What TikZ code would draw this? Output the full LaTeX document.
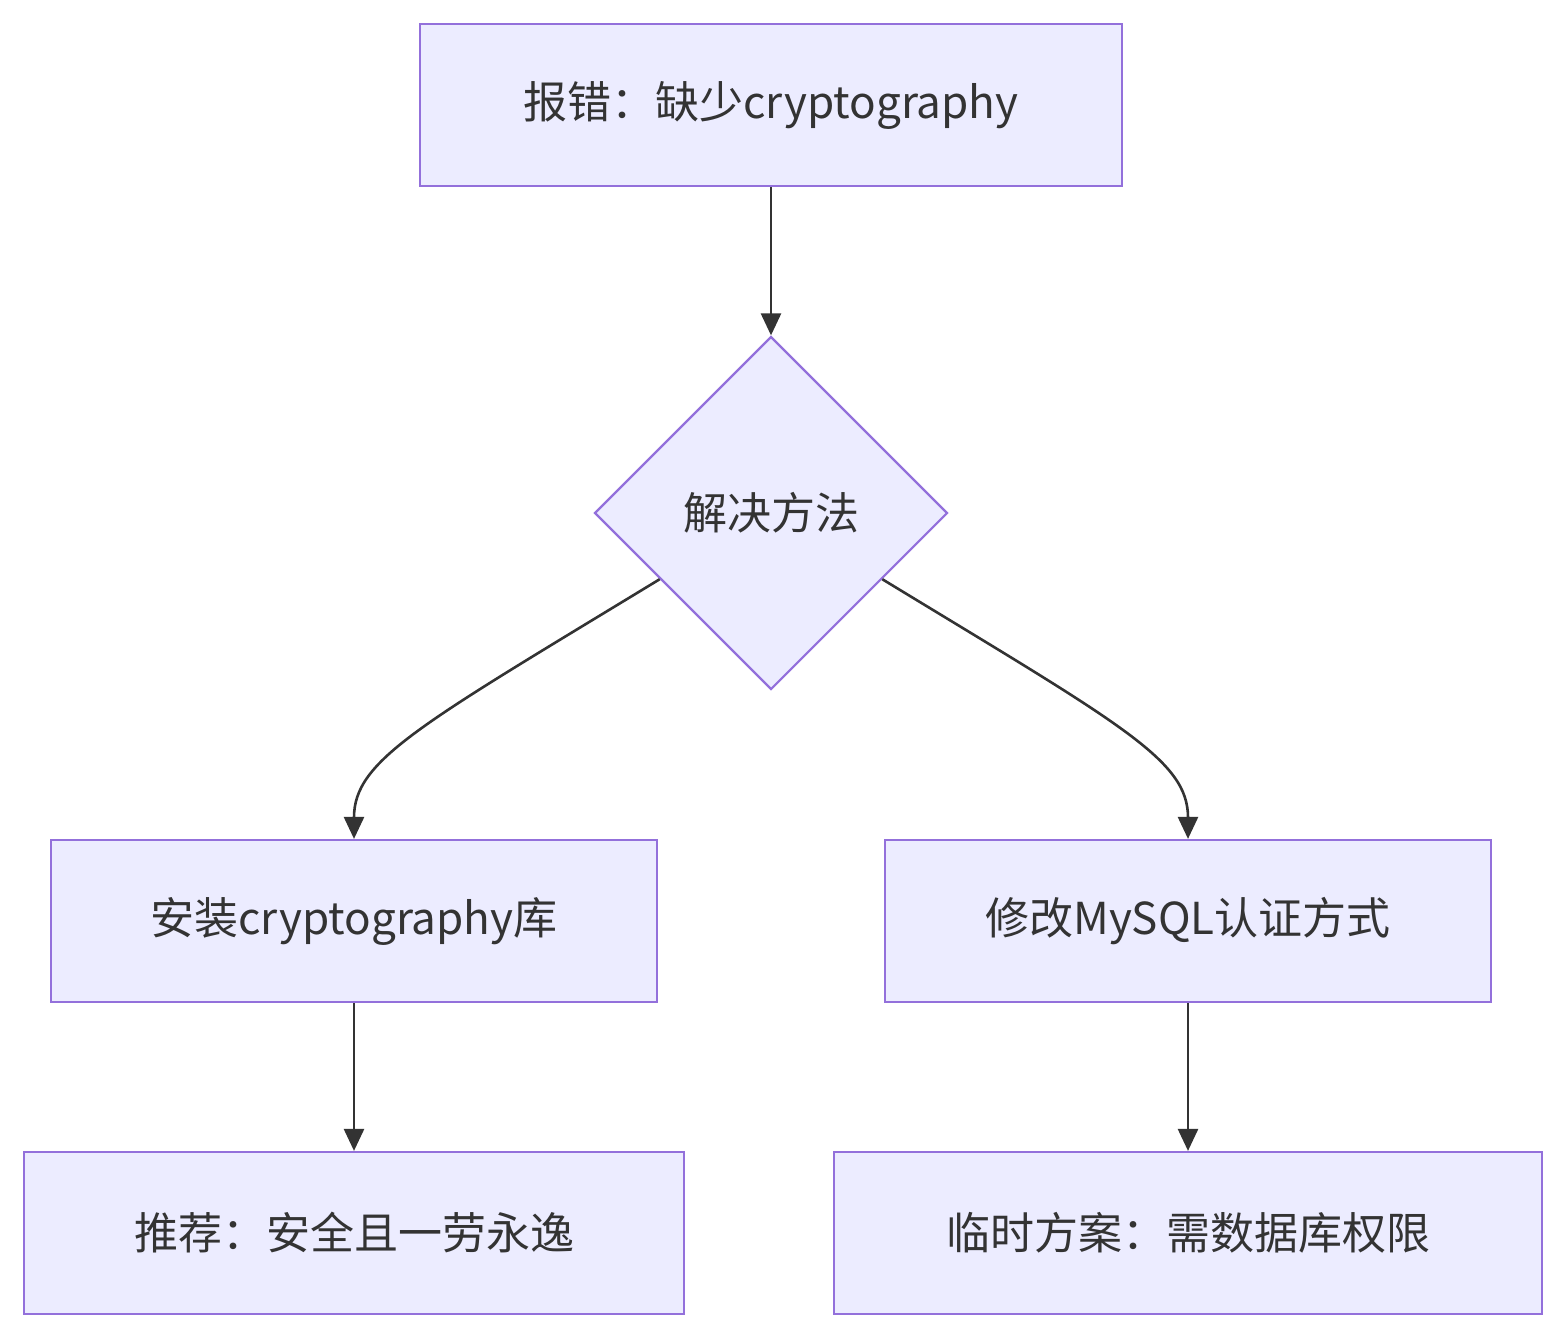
\documentclass[tikz,border=0pt]{standalone}
\usepackage{fontspec}
\setmainfont{Noto Sans CJK SC}
\usetikzlibrary{shapes.geometric,arrows.meta,calc}
\definecolor{nfill}{HTML}{ECECFF}
\definecolor{nline}{HTML}{9370DB}
\definecolor{eline}{HTML}{333333}
\begin{document}
\begin{tikzpicture}[x=1pt,y=-1pt,
  box/.style={draw=nline,fill=nfill,line width=2.2pt,minimum height=162pt,inner sep=0pt,font=\fontsize{44}{52}\selectfont,text=eline},
  dec/.style={draw=nline,fill=nfill,line width=2.2pt,shape=diamond,minimum width=353pt,minimum height=353pt,inner sep=0pt,font=\fontsize{44}{52}\selectfont,text=eline},
  edge/.style={draw=eline,line width=2.6pt,-{Triangle[length=22pt,width=20pt]}}]
\useasboundingbox (0,0) rectangle (1566,1338);
\node[box,minimum width=702pt] (a) at (771,105) {报错：缺少cryptography};
\node[dec] (d) at (771,513) {解决方法};
\node[box,minimum width=606pt] (l) at (354,921) {安装cryptography库};
\node[box,minimum width=606pt] (r) at (1188,921) {修改MySQL认证方式};
\node[box,minimum width=660pt] (bl) at (354,1233) {推荐：安全且一劳永逸};
\node[box,minimum width=708pt] (br) at (1188,1233) {临时方案：需数据库权限};
\coordinate (dl) at ($(d.west)!0.373!(d.south)$);
\coordinate (dr) at ($(d.east)!0.373!(d.south)$);
\draw[edge] (a) -- (d);
\draw[edge] (dl) .. controls (420,725) and (354,760) .. (l.north);
\draw[edge] (dr) .. controls (1122,725) and (1188,760) .. (r.north);
\draw[edge] (l) -- (bl);
\draw[edge] (r) -- (br);
\end{tikzpicture}
\end{document}
